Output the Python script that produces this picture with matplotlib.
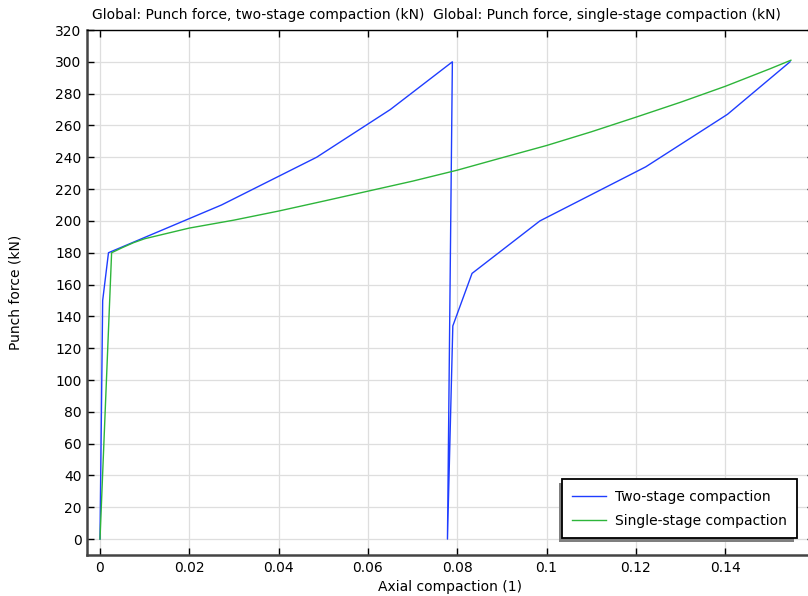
import numpy as np
import matplotlib
matplotlib.use("Agg")
import matplotlib.pyplot as plt
from matplotlib.patches import Rectangle
from matplotlib.transforms import IdentityTransform

# two-stage compaction
two_x = [0.0, 0.0006, 0.0019, 0.0272, 0.0485, 0.0650, 0.0789, 0.0778,
         0.0790, 0.0833, 0.0985, 0.1222, 0.1405, 0.1545]
two_y = [0, 150, 180, 210, 240, 270, 300, 0,
         134, 167, 200, 234, 267, 300]

# single-stage compaction
one_x = [0.0, 0.0026, 0.005, 0.0075, 0.01, 0.02, 0.03, 0.04, 0.05, 0.06,
         0.07, 0.08, 0.09, 0.10, 0.11, 0.12, 0.13, 0.14, 0.15, 0.1547]
one_y = [0, 180, 183.2, 186.3, 188.8, 195.5, 200.5, 206.2, 212.4, 218.7,
         225, 231.9, 239.7, 247.4, 256, 265.2, 274.6, 284.6, 295.6, 301]

x_ticks = [0, 0.02, 0.04, 0.06, 0.08, 0.1, 0.12, 0.14]
x_tick_labels = ["0", "0.02", "0.04", "0.06", "0.08", "0.1", "0.12", "0.14"]
y_ticks = list(range(0, 321, 20))

W, H = 808, 596
fig = plt.figure(figsize=(W / 100, H / 100), dpi=100)
# axes box in pixels: left 87, right 814, top 30, bottom 555
ax = fig.add_axes([87 / W, (H - 555) / H, (814 - 87) / W, (555 - 30) / H])

ax.plot(two_x, two_y, color="#1f3dff", lw=1.0, label="Two-stage compaction")
ax.plot(one_x, one_y, color="#2db53a", lw=1.0, label="Single-stage compaction")

ax.set_xlim(-0.00291, 0.15987)
ax.set_ylim(-10, 320)
ax.set_xticks(x_ticks)
ax.set_xticklabels(x_tick_labels)
ax.set_yticks(y_ticks)
ax.tick_params(direction="in", length=5, width=1, labelsize=10,
               top=True, right=True, pad=4)
ax.grid(True, color="#dedede", lw=0.9)
ax.set_axisbelow(True)

for side in ["left", "bottom"]:
    ax.spines[side].set_linewidth(1.8)
    ax.spines[side].set_color("#444444")
ax.spines["top"].set_linewidth(1.0)
ax.spines["top"].set_color("black")

ax.set_xlabel("Axial compaction (1)", fontsize=10, labelpad=4)
ax.set_ylabel("Punch force (kN)", fontsize=10, labelpad=23)

fig.text(436 / W, 1 - 15 / H,
         "Global: Punch force, two-stage compaction (kN)  "
         "Global: Punch force, single-stage compaction (kN)",
         ha="center", va="center", fontsize=10)

leg = ax.legend(loc="lower right", bbox_to_anchor=((797 - 87) / 727, (555 - 538) / 525),
                borderaxespad=0, fancybox=False, edgecolor="black", framealpha=1,
                fontsize=10, handlelength=2.45, handletextpad=0.6,
                labelspacing=0.7, borderpad=0.75)
leg.get_frame().set_linewidth(1.3)

# shadow offset to the lower left, like the reference
fig.canvas.draw()
bb = leg.get_window_extent()
shadow = Rectangle((bb.x0 - 3, bb.y0 - 4), bb.width, bb.height,
                   transform=IdentityTransform(), facecolor="#7f7f7f",
                   edgecolor="none", zorder=4.5, clip_on=False)
ax.add_patch(shadow)
leg.set_zorder(5)

fig.savefig("out.png", dpi=100)
